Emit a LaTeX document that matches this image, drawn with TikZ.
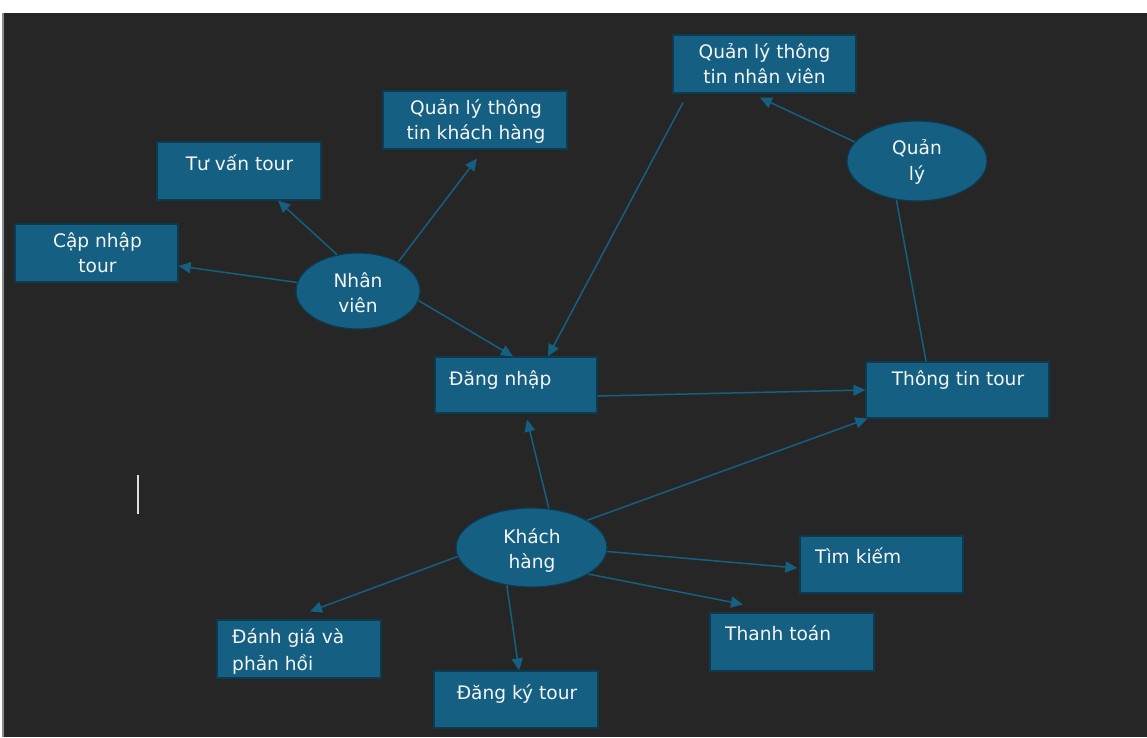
\documentclass[tikz,border=0pt]{standalone}
\usepackage{fontspec}
\setmainfont{DejaVu Sans}
\usetikzlibrary{arrows.meta,shapes.geometric}
\definecolor{bg}{HTML}{262626}
\definecolor{acc}{HTML}{156082}
\definecolor{accd}{HTML}{0E3A50}
\definecolor{txt}{HTML}{F5F5F5}
\definecolor{edge}{HTML}{8C8C8C}
\definecolor{cursor}{HTML}{E0E0E0}
\begin{document}
\begin{tikzpicture}[x=1pt,y=-1pt,
  box/.style={draw=accd, line width=1.2pt, fill=acc, rectangle, inner sep=0pt},
  oval/.style={draw=accd, line width=1.2pt, fill=acc, ellipse, inner sep=0pt},
  lbl/.style={text=txt, font=\fontsize{18.6}{26}\selectfont, inner sep=0pt, anchor=base},
  lbll/.style={lbl, anchor=base west},
  conn/.style={draw=acc, line width=1.5pt},
  arr/.style={conn, -{Triangle[length=12pt,width=11pt]}}]
\useasboundingbox (0,0) rectangle (1147,737);
% background
\fill[white] (0,0) rectangle (1147,737);
\fill[bg] (2,13) rectangle (1147,737);
\fill[edge] (2,13) rectangle (3.5,737);
\fill[cursor] (137,475) rectangle (139,514);

% boxes
\node[box, minimum width=164, minimum height=58] (tvt) at (239,171) {};
\node[box, minimum width=163, minimum height=58] (cnt) at (96.5,253) {};
\node[box, minimum width=184, minimum height=58] (qlkh) at (475,120) {};
\node[box, minimum width=183, minimum height=58] (qlnv) at (764.5,64) {};
\node[box, minimum width=162, minimum height=56] (dn) at (516,385) {};
\node[box, minimum width=183, minimum height=56] (tt) at (957.5,390) {};
\node[box, minimum width=164, minimum height=58] (dg) at (299,649) {};
\node[box, minimum width=164, minimum height=57] (dk) at (516,699.5) {};
\node[box, minimum width=163, minimum height=57] (tk) at (881.5,564.5) {};
\node[box, minimum width=164, minimum height=58] (thanh) at (792,642) {};
% ellipses
\node[oval, minimum width=140, minimum height=80] (ql) at (917,161) {};
\node[oval, minimum width=124, minimum height=76] (nv) at (358,291) {};
\node[oval, minimum width=151, minimum height=79] (kh) at (531.5,547.5) {};

% labels
\node[lbl] (tvt1) at (239.5,170) {Tư vấn tour};
\node[lbl] (cnt1) at (97.5,247) {Cập nhập};
\node[lbl] (cnt2) at (97.5,272) {tour};
\node[lbl] (qlkh1) at (476,114) {Quản lý thông};
\node[lbl] (qlkh2) at (476,139) {tin khách hàng};
\node[lbl] (qlnv1) at (764.5,58) {Quản lý thông};
\node[lbl] (qlnv2) at (764.5,83) {tin nhân viên};
\node[lbl] (ql1) at (917,154) {Quản};
\node[lbl] (ql2) at (917,180) {lý};
\node[lbl] (nv1) at (358,287) {Nhân};
\node[lbl] (nv2) at (358,312) {viên};
\node[lbll] (dn1) at (449,385) {Đăng nhập};
\node[lbl] (tt1) at (958,385) {Thông tin tour};
\node[lbl] (kh1) at (532,543) {Khách};
\node[lbl] (kh2) at (532,568) {hàng};
\node[lbll] (dg1) at (232,643) {Đánh giá và};
\node[lbll] (dg2) at (232,670) {phản hồi};
\node[lbl] (dk1) at (517,699) {Đăng ký tour};
\node[lbll] (tk1) at (815,563) {Tìm kiếm};
\node[lbll] (thanh1) at (725,640) {Thanh toán};

% connectors
\draw[arr] (nv.120.5) -- ([xshift=39pt]tvt.south);
\draw[arr] (nv.172.5) -- ([yshift=-13pt]cnt.east);
\draw[arr] (nv.36.6) -- ([xshift=2pt,yshift=-9pt]qlkh.south);
\draw[arr] (nv.-9.3) -- ([xshift=-3pt]dn.north);
\draw[arr] ([xshift=-81.5pt,yshift=-9pt]qlnv.south) -- ([xshift=32pt]dn.north);
\draw[arr] (ql.163.5) -- ([xshift=-4.5pt,yshift=-4pt]qlnv.south);
\draw[conn] (ql.-118.3) -- ([xshift=-31.5pt]tt.north);
\draw[arr] ([yshift=-11pt]dn.east) -- (tt.west);
\draw[arr] (kh.66) -- ([xshift=11pt,yshift=-6pt]dn.south);
\draw[arr] (kh.26) -- ([xshift=2pt]tt.south west);
\draw[arr] (kh.-3.4) -- ([xshift=-2pt,yshift=-3.5pt]tk.west);
\draw[arr] (kh.-25.2) -- ([xshift=-49pt,yshift=8pt]thanh.north);
\draw[arr] (kh.187.6) -- ([xshift=11pt,yshift=8pt]dg.north);
\draw[arr] (kh.-123.5) -- ([xshift=3pt]dk.north);
\end{tikzpicture}
\end{document}
